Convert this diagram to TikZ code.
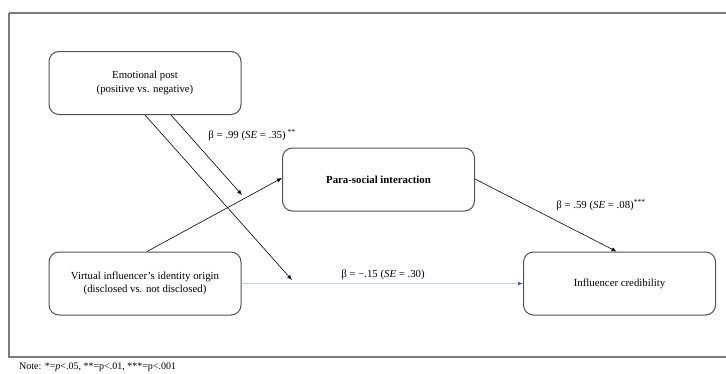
\documentclass[tikz,border=0pt]{standalone}
\usepackage{fontspec}
\setmainfont{Liberation Serif}
\usetikzlibrary{arrows.meta}
\definecolor{boxgray}{HTML}{505050}
\definecolor{framegray}{HTML}{7A7A7A}
\definecolor{directline}{HTML}{BCD8E2}
\definecolor{directtip}{HTML}{2F6FB0}
\begin{document}
\begin{tikzpicture}[x=1pt,y=-1pt,
  varbox/.style={draw=boxgray,line width=1pt,rounded corners=10pt,minimum width=192pt,minimum height=63pt,align=center,font=\fontsize{10.8}{13.5}\selectfont,inner sep=0pt},
  path/.style={draw=black,line width=0.6pt,-{Latex[length=5pt,width=4pt]}},
  coef/.style={font=\fontsize{10.8}{13}\selectfont,inner sep=1pt}]
\useasboundingbox (0,0) rectangle (726,373);
\draw[framegray,line width=1.2pt] (9,13) -- (728,13) (9,13) -- (9,357) -- (728,357);
\node[varbox] (emo) at (145,83) {Emotional post\\(positive vs. negative)};
\node[varbox] (psi) at (378.5,179.5) {\textbf{Para-social interaction}};
\node[varbox] (vio) at (145,283.5) {Virtual influencer's identity origin\\(disclosed vs. not disclosed)};
\node[varbox] (cred) at (619.5,283.5) {Influencer credibility};
\coordinate (m1) at (242,195);
\coordinate (m2) at (292,280);
\draw[draw=directline,line width=0.8pt,-{Latex[length=5pt,width=4pt,color=directtip]}] (vio.east) -- (cred.west);
\draw[path] ([xshift=2pt]vio.north) -- ([yshift=1.5pt]psi.west);
\draw[path] ([yshift=0.5pt]psi.east) -- ([xshift=-3pt]cred.north);
\draw[path] (emo.south) -- (m2);
\draw[path] ([xshift=26pt]emo.south) -- (m1);
\node[coef] (c1) at (252,135) {β = .99 (\textit{SE} = .35)\,\textsuperscript{**}};
\node[coef] (c2) at (601,205) {β = .59 (\textit{SE} = .08)\textsuperscript{***}};
\node[coef] (c3) at (383,275) {β = −.15 (\textit{SE} = .30)};
\node[anchor=west,font=\fontsize{10}{12}\selectfont,inner sep=0pt] (note) at (19,367) {Note: *=\textit{p}<.05, **=p<.01, ***=p<.001};
\end{tikzpicture}
\end{document}
